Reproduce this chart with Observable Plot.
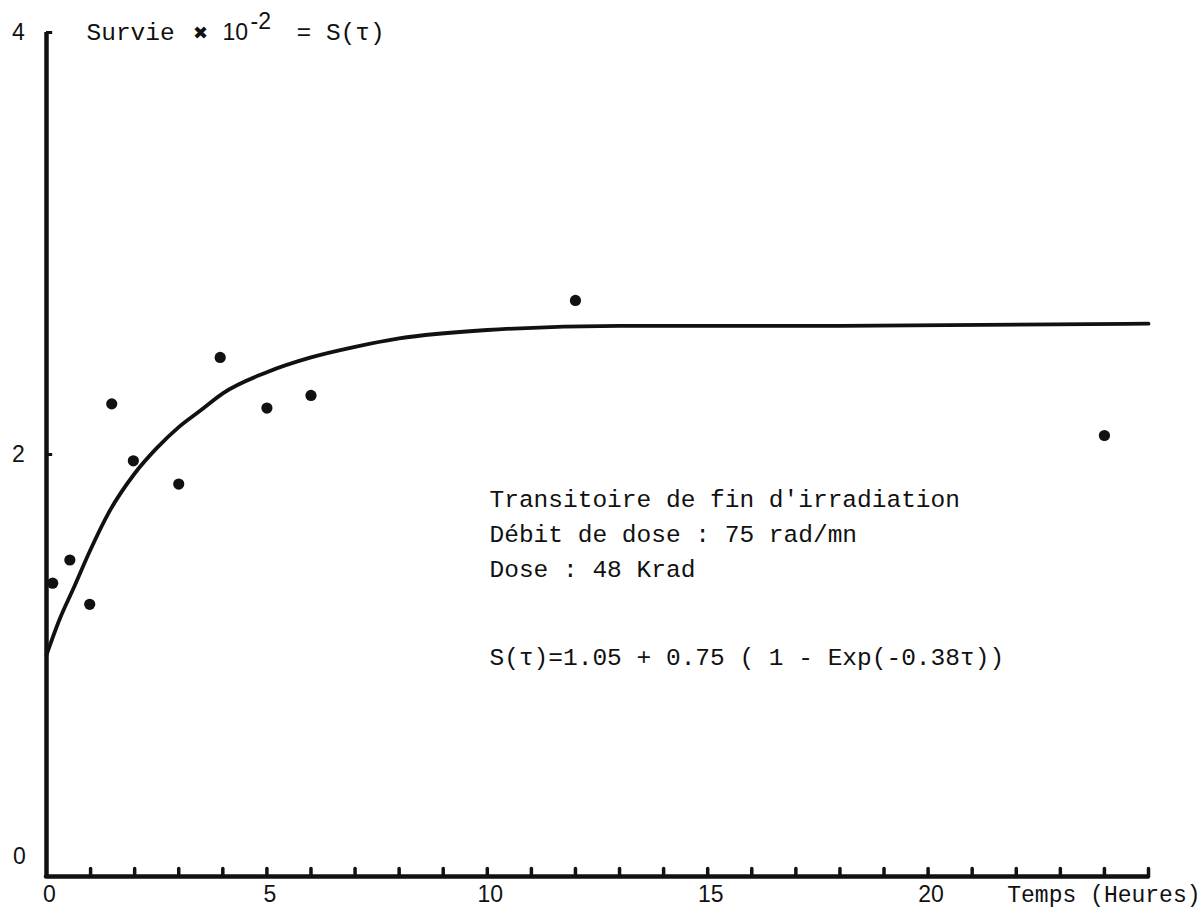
<!DOCTYPE html>
<html>
<head>
<meta charset="utf-8">
<script src="https://cdn.jsdelivr.net/npm/d3@7"></script>
<script src="https://cdn.jsdelivr.net/npm/@observablehq/plot@0.6"></script>
<style>
  html, body { margin: 0; padding: 0; background: #fff; }
  #chart svg { display: block; }
</style>
</head>
<body>
<div id="chart"></div>
<script>
// Measured survival points (hours, S x 10^-2)
const pointHours = [0.14, 0.53, 0.98, 1.48, 1.97, 3.0, 3.94, 5.0, 6.0, 12.0, 24.0];
const pointSurvie = [1.39, 1.50, 1.29, 2.24, 1.97, 1.86, 2.46, 2.22, 2.28, 2.73, 2.09];

// Fitted curve
const curveHours = [0, 0.3, 0.6, 1.0, 1.4, 2.0, 2.5, 3.0, 3.5, 4.0, 5.0, 6.0, 7.0, 8.0, 10, 13, 18, 25];
const curveSurvie = [1.05, 1.22, 1.36, 1.55, 1.72, 1.91, 2.03, 2.13, 2.21, 2.29, 2.39, 2.46, 2.51, 2.55, 2.59, 2.61, 2.61, 2.62];

// Axis tick values and labels
const xTickLabels = [0, 5, 10, 15, 20];
const xMinorTicks = d3.range(1, 26);
const yTickLabels = [2, 4];
const yZeroLabel = [0];
const yMinorTicks = [2, 4];

const titleMain = "Survie";
const titleCross = "✖";
const titleBase = "10";
const titleExp = "-2";
const titleRest = "= S(τ)";
const xLabel = "Temps (Heures)";
const notes = [
  "Transitoire de fin d'irradiation",
  "Débit de dose : 75 rad/mn",
  "Dose : 48 Krad",
  "S(τ)=1.05 + 0.75 ( 1 - Exp(-0.38τ))"
];

const points = pointHours.map((h, i) => ({h, s: pointSurvie[i]}));
const curve = curveHours.map((h, i) => ({h, s: curveSurvie[i]}));

const mono = "'Liberation Mono', 'DejaVu Sans Mono', monospace";
const sans = "'Liberation Sans', 'DejaVu Sans', sans-serif";
const ink = "#111";

const noteDy = [467, 502, 537, 625];

const chart = Plot.plot({
  width: 1204,
  height: 912,
  marginLeft: 46,
  marginRight: 56,
  marginTop: 32,
  marginBottom: 36,
  style: {background: "#fff", color: ink},
  x: {domain: [0, 25], axis: null},
  y: {domain: [0, 4], axis: null},
  marks: [
    // tick labels
    Plot.text(xTickLabels, {x: d => d, text: d => String(d), frameAnchor: "bottom", dx: 3, dy: 18, textAnchor: "middle", lineAnchor: "middle", fontFamily: sans, fontSize: 23, fill: ink}),
    Plot.text(yTickLabels, {y: d => d, text: d => String(d), frameAnchor: "left", dx: -28, textAnchor: "middle", lineAnchor: "middle", fontFamily: sans, fontSize: 23, fill: ink}),
    Plot.text(yZeroLabel, {y: d => d, text: d => String(d), frameAnchor: "left", dx: -27, dy: -20, textAnchor: "middle", lineAnchor: "middle", fontFamily: sans, fontSize: 23, fill: ink}),
    // axis lines
    Plot.ruleX([0], {y1: 0, y2: 4, stroke: ink, strokeWidth: 4.5}),
    Plot.ruleY([0], {x1: 0, x2: 25, stroke: ink, strokeWidth: 4.5, strokeLinecap: "round"}),
    Plot.ruleX(xMinorTicks, {x: d => d, y1: 0, y2: 0.035, stroke: ink, strokeWidth: 3.5, strokeLinecap: "round"}),
    Plot.ruleY(yMinorTicks, {y: d => d, x1: 0, x2: 0.14, stroke: ink, strokeWidth: 3}),
    // fitted curve
    Plot.line(curve, {x: "h", y: "s", curve: "monotone-x", stroke: ink, strokeWidth: 3.8}),
    // data points
    Plot.dot(points, {x: "h", y: "s", r: 5.6, fill: ink, stroke: "none"}),
    // title pieces (on the level of the top of the y axis)
    Plot.text([titleMain], {text: d => d, frameAnchor: "top-left", dx: 40, dy: 0, textAnchor: "start", lineAnchor: "middle", fontFamily: mono, fontSize: 24.5, fill: ink}),
    Plot.text([titleCross], {text: d => d, frameAnchor: "top-left", dx: 154, dy: 1, textAnchor: "middle", lineAnchor: "middle", fontFamily: sans, fontSize: 18, fill: ink}),
    Plot.text([titleBase], {text: d => d, frameAnchor: "top-left", dx: 176, dy: 0, textAnchor: "start", lineAnchor: "middle", fontFamily: sans, fontSize: 23, fill: ink}),
    Plot.text([titleExp], {text: d => d, frameAnchor: "top-left", dx: 204, dy: -11, textAnchor: "start", lineAnchor: "middle", fontFamily: sans, fontSize: 23, fill: ink}),
    Plot.text([titleRest], {text: d => d, frameAnchor: "top-left", dx: 250, dy: 0, textAnchor: "start", lineAnchor: "middle", fontFamily: mono, fontSize: 24.5, fill: ink}),
    // x axis title
    Plot.text([xLabel], {text: d => d, frameAnchor: "bottom-right", dx: 52, dy: 18, textAnchor: "end", lineAnchor: "middle", fontFamily: mono, fontSize: 23, fill: ink}),
    // annotation block
    ...notes.map((n, i) => Plot.text([n], {text: d => d, frameAnchor: "top-left", dx: 443, dy: noteDy[i], textAnchor: "start", lineAnchor: "middle", fontFamily: mono, fontSize: 24.5, fill: ink}))
  ]
});

document.getElementById("chart").append(chart);
</script>
</body>
</html>
